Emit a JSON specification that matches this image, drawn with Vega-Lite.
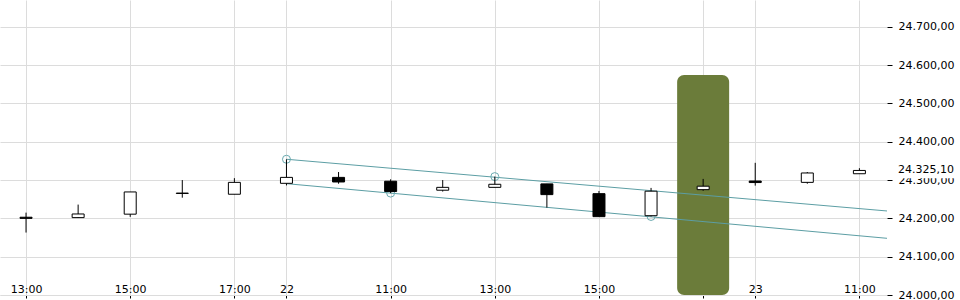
{
  "$schema": "https://vega.github.io/schema/vega-lite/v6.json",
  "width": 887,
  "height": 295,
  "autosize": {"type": "none"},
  "padding": {"left": 0, "top": 0, "right": 73, "bottom": 5},
  "background": "#ffffff",
  "config": {
    "view": {"stroke": null},
    "locale": {"number": {"decimal": ",", "thousands": ".", "grouping": [3], "currency": ["", " €"]}},
    "axis": {"labelFont": "DejaVu Sans", "labelFontSize": 11, "labelColor": "#000000", "gridColor": "#dcdcdc", "gridWidth": 1, "title": null}
  },
  "datasets": {
    "candles": [
      {"i": 0, "open": 24203, "high": 24215, "low": 24163, "close": 24200},
      {"i": 1, "open": 24202, "high": 24236, "low": 24201, "close": 24211.5},
      {"i": 2, "open": 24211, "high": 24269, "low": 24204, "close": 24269},
      {"i": 3, "open": 24265, "high": 24300, "low": 24254, "close": 24266},
      {"i": 4, "open": 24263, "high": 24305, "low": 24263, "close": 24294},
      {"i": 5, "open": 24291.5, "high": 24354, "low": 24286, "close": 24307},
      {"i": 6, "open": 24307, "high": 24321, "low": 24290.5, "close": 24295},
      {"i": 7, "open": 24297, "high": 24302, "low": 24266, "close": 24270},
      {"i": 8, "open": 24273.5, "high": 24300, "low": 24270, "close": 24281},
      {"i": 9, "open": 24281, "high": 24309, "low": 24281, "close": 24289},
      {"i": 10, "open": 24290, "high": 24290, "low": 24228, "close": 24262},
      {"i": 11, "open": 24264.5, "high": 24271.5, "low": 24204.5, "close": 24204.5},
      {"i": 12, "open": 24207, "high": 24279.5, "low": 24205, "close": 24271},
      {"i": 13, "open": 24275, "high": 24303, "low": 24272, "close": 24284},
      {"i": 14, "open": 24297.5, "high": 24345, "low": 24285.5, "close": 24293.5},
      {"i": 15, "open": 24294, "high": 24321, "low": 24290.5, "close": 24318.5},
      {"i": 16, "open": 24316.5, "high": 24331, "low": 24316.5, "close": 24325.1}
    ],
    "trend": [
      {"line": "upper", "i": 5, "v": 24354.3},
      {"line": "upper", "i": 16.53, "v": 24219.3},
      {"line": "lower", "i": 5, "v": 24290.6},
      {"line": "lower", "i": 16.53, "v": 24148}
    ],
    "pivots": [
      {"i": 5, "v": 24354.3},
      {"i": 7, "v": 24266},
      {"i": 9, "v": 24309},
      {"i": 12, "v": 24205}
    ],
    "highlight": [
      {"i": 13, "top": 24574, "bottom": 24000}
    ],
    "price": [
      {"i": 16.53, "i2": 17.82, "v": 24325.1, "vtop": 24343, "vbottom": 24305}
    ]
  },
  "encoding": {
    "x": {
      "field": "i",
      "type": "quantitative",
      "scale": {"domain": [-0.5, 16.53], "nice": false, "zero": false, "padding": 0},
      "axis": {
        "values": [0, 2, 4, 5, 7, 9, 11, 13, 14, 16],
        "labelExpr": "['13:00','','15:00','','17:00','22','','11:00','','13:00','','15:00','','17:00','23','','11:00'][datum.value]",
        "grid": true,
        "domainColor": "#dcdcdc",
        "tickColor": "#000000",
        "tickSize": 3,
        "labelPadding": -15,
        "labelFlush": false,
        "labelOverlap": false
      }
    }
  },
  "layer": [
    {
      "data": {"name": "highlight"},
      "mark": {"type": "bar", "color": "#6b7c3a", "cornerRadius": 7, "size": 52},
      "encoding": {
        "y": {
          "field": "top",
          "type": "quantitative",
          "scale": {"domain": [24000, 24770], "nice": false, "zero": false, "padding": 0},
          "axis": {
            "orient": "right",
            "values": [24000, 24100, 24200, 24300, 24400, 24500, 24600, 24700],
            "format": ",.2f",
            "domain": false,
            "tickColor": "#000000",
            "tickSize": 5,
            "labelPadding": 6,
            "grid": true
          }
        },
        "y2": {"field": "bottom"}
      }
    },
    {
      "data": {"name": "trend"},
      "mark": {"type": "line", "color": "#5c9ea4", "strokeWidth": 1},
      "encoding": {
        "y": {"field": "v", "type": "quantitative"},
        "detail": {"field": "line"}
      }
    },
    {
      "data": {"name": "pivots"},
      "mark": {"type": "point", "shape": "circle", "filled": false, "color": "#6aaab0", "size": 64, "strokeWidth": 1, "opacity": 1},
      "encoding": {
        "y": {"field": "v", "type": "quantitative"}
      }
    },
    {
      "data": {"name": "candles"},
      "mark": {"type": "rule", "color": "#000000", "strokeWidth": 1},
      "encoding": {
        "y": {"field": "low", "type": "quantitative"},
        "y2": {"field": "high"}
      }
    },
    {
      "data": {"name": "candles"},
      "mark": {"type": "bar", "size": 12, "stroke": "#000000", "strokeWidth": 1},
      "encoding": {
        "y": {"field": "open", "type": "quantitative"},
        "y2": {"field": "close"},
        "fill": {"condition": {"test": "datum.close >= datum.open", "value": "#ffffff"}, "value": "#000000"}
      }
    },
    {
      "data": {"name": "price"},
      "mark": {"type": "rect", "color": "#ffffff"},
      "encoding": {
        "x": {"field": "i", "type": "quantitative"},
        "x2": {"field": "i2"},
        "y": {"field": "vtop", "type": "quantitative"},
        "y2": {"field": "vbottom"}
      }
    },
    {
      "data": {"name": "price"},
      "mark": {"type": "text", "align": "left", "baseline": "middle", "dx": 11, "font": "DejaVu Sans", "fontSize": 11, "color": "#000000"},
      "encoding": {
        "x": {"field": "i", "type": "quantitative"},
        "y": {"field": "v", "type": "quantitative"},
        "text": {"field": "v", "type": "quantitative", "format": ",.2f"}
      }
    }
  ]
}
